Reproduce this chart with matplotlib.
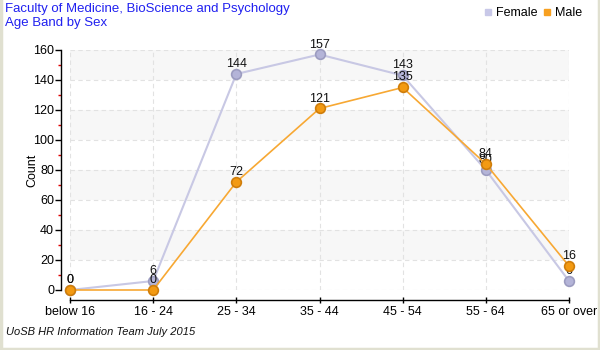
import matplotlib
matplotlib.use("Agg")
import matplotlib.pyplot as plt
from matplotlib.lines import Line2D
import numpy as np

categories = ["below 16", "16 - 24", "25 - 34", "35 - 44", "45 - 54", "55 - 64", "65 or over"]
female = [0, 6, 144, 157, 143, 80, 6]
male = [0, 0, 72, 121, 135, 84, 16]
yticks = [0, 20, 40, 60, 80, 100, 120, 140, 160]

title1 = "Faculty of Medicine, BioScience and Psychology"
title2 = "Age Band by Sex"
footer = "UoSB HR Information Team July 2015"

plt.rcParams['font.family'] = ['Liberation Sans', 'DejaVu Sans']

W, H = 600, 350
PT = 72 / 100  # points per pixel
fig = plt.figure(figsize=(6, 3.5), dpi=100)

def fx(px):
    return px / W

def fy(py):
    return 1 - py / H

# axes: x from 70 to 569 (category 0..6), y from 290 (0) to 50 (160)
x0, x1 = 70, 569
y0, y1 = 290, 50
ax = fig.add_axes([fx(x0), fy(y0), fx(x1) - fx(x0), fy(y1) - fy(y0)])
ax.set_xlim(0, len(categories) - 1)
ax.set_ylim(0, 160)

# bands
for lo in [20, 60, 100, 140]:
    ax.axhspan(lo, lo + 20, color="#F7F7F7", zorder=0, lw=0)

# grid
for yv in yticks:
    ax.axhline(yv, color="#E2E2E2", lw=0.8, ls=(0, (4, 3)), zorder=1)
for i in range(len(categories)):
    ax.axvline(i, color="#E2E2E2", lw=0.8, ls=(0, (4, 3)), zorder=1)

xs = np.arange(len(categories))
ax.plot(xs, female, color="#C8C8E4", lw=1.5, zorder=3, clip_on=False)
ax.plot(xs, female, ls="none", marker="o", ms=7, mfc="#B4B4D8", mec="#9C9CC0", mew=1.2, zorder=4, clip_on=False)
for i, v in enumerate(female):
    ax.annotate(str(v), (i, v), xytext=(0, 7 * PT), textcoords="offset points",
                ha="center", va="baseline", fontsize=9, color="#111111", zorder=4.5)
ax.plot(xs, male, color="#F7A833", lw=1.2, zorder=5, clip_on=False)
ax.plot(xs, male, ls="none", marker="o", ms=7, mfc="#F39A12", mec="#CF7D0A", mew=1.2, zorder=6, clip_on=False)
for i, v in enumerate(male):
    ax.annotate(str(v), (i, v), xytext=(0, 7 * PT), textcoords="offset points",
                ha="center", va="baseline", fontsize=9, color="#111111", zorder=7)

# spines
for s in ["top", "right"]:
    ax.spines[s].set_visible(False)
ax.spines["left"].set_position(("outward", 9 * PT))
ax.spines["bottom"].set_position(("outward", 10 * PT))
ax.spines["left"].set_linewidth(1.0)
ax.spines["bottom"].set_linewidth(1.0)

ax.set_yticks(yticks)
ax.set_yticks([v + 10 for v in yticks[:-1]], minor=True)
ax.tick_params(axis="y", which="major", length=4, width=1, labelsize=9, pad=1, direction="out")
ax.tick_params(axis="y", which="minor", length=2.5, width=1, color="#E00000", direction="out")
ax.set_xticks(xs)
ax.set_xticklabels(categories)
ax.tick_params(axis="x", which="major", length=5, width=1, labelsize=9, pad=1.5, direction="inout")

fig.text(fx(32), fy(170), "Count", rotation=90, fontsize=9, ha="center", va="center")

# titles
fig.text(fx(5), fy(3), title1, color="#2020F0", fontsize=9.5, ha="left", va="top")
fig.text(fx(5), fy(17), title2, color="#2020F0", fontsize=9.5, ha="left", va="top")
fig.text(fx(6), fy(332), footer, fontsize=8, style="italic", color="#111111", ha="left", va="center")

# legend
handles = [Line2D([], [], ls="none", marker="s", ms=5, mfc="#C8C8E8", mec="#C8C8E8"),
           Line2D([], [], ls="none", marker="s", ms=5, mfc="#F7A020", mec="#F7A020")]
fig.legend(handles, ["Female", "Male"], loc="center right", bbox_to_anchor=(fx(582), fy(13)),
           ncol=2, frameon=False, fontsize=9, handlelength=0.7, handletextpad=0.3,
           columnspacing=0.4, borderaxespad=0, borderpad=0)

# border
bc = "#E0E0D0"
fig.add_artist(Line2D([fx(1), fx(1)], [0, 1], color=bc, lw=2.5, transform=fig.transFigure))
fig.add_artist(Line2D([fx(598.5), fx(598.5)], [0, 1], color=bc, lw=2.5, transform=fig.transFigure))
fig.add_artist(Line2D([0, 1], [fy(348.5), fy(348.5)], color=bc, lw=2.5, transform=fig.transFigure))

fig.savefig("out.png", dpi=100)
